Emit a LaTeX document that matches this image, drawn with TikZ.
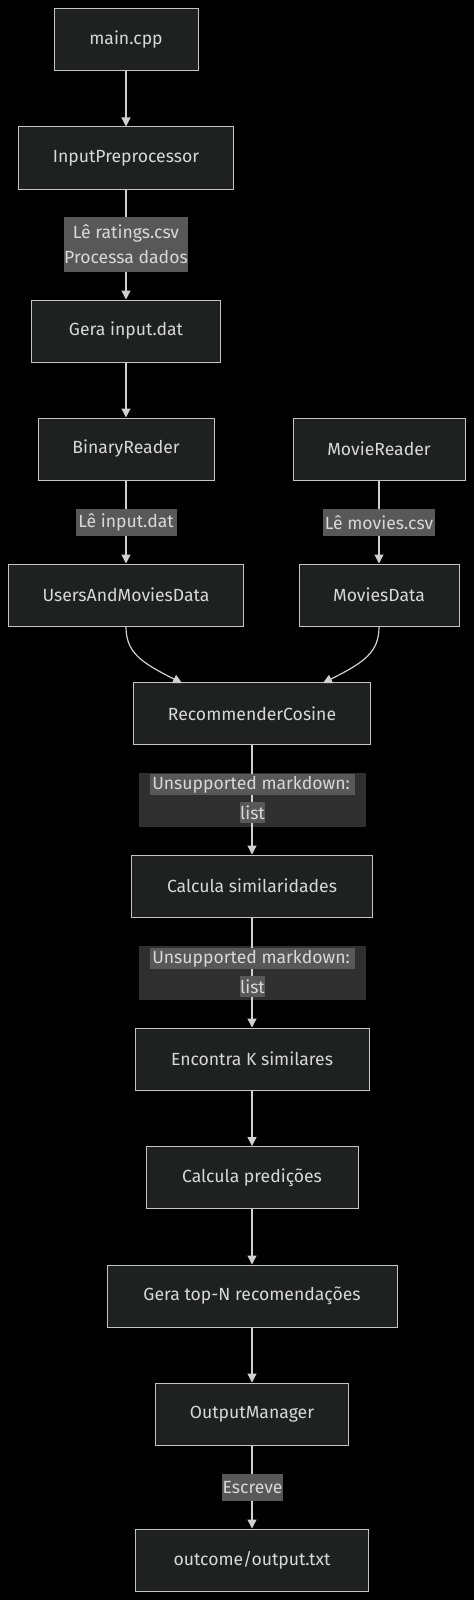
\documentclass[tikz,border=0pt]{standalone}
\usepackage{fontspec}
\setmainfont{Fira Sans}
\usetikzlibrary{arrows.meta}
\definecolor{bgc}{HTML}{000000}
\definecolor{boxfill}{HTML}{1F2020}
\definecolor{boxline}{HTML}{C4C4C4}
\definecolor{txt}{HTML}{D8D8D8}
\definecolor{lblbg}{HTML}{585858}
\definecolor{lblouter}{HTML}{2F2F2F}
\definecolor{edgec}{HTML}{D0D0D0}
\begin{document}
\begin{tikzpicture}[x=1pt,y=-1pt,
  every node/.style={font=\fontsize{17.6}{21}\selectfont, text=txt},
  procbox/.style={draw=boxline, line width=1pt, fill=boxfill, minimum height=62pt, inner sep=0pt},
  lbl/.style={fill=lblbg, inner sep=0pt, minimum height=27pt},
  outerlbl/.style={fill=lblouter, inner sep=0pt, minimum width=227pt, minimum height=54pt},
  edge/.style={draw=edgec, line width=1.2pt},
  arr/.style={edge, -{Triangle[width=9pt,length=9pt]}, shorten >=0pt}
]
\fill[bgc] (0,0) rectangle (474,1600);
\useasboundingbox (0,0) rectangle (474,1600);

% nodes
\node[procbox, minimum width=144pt] (main) at (126,40) {main.cpp};
\node[procbox, minimum width=215pt] (inpre) at (126,158) {InputPreprocessor};
\node[procbox, minimum width=189pt] (gera) at (126,331) {Gera input.dat};
\node[procbox, minimum width=176pt] (binr) at (126,449) {BinaryReader};
\node[procbox, minimum width=172pt] (movr) at (379,449) {MovieReader};
\node[procbox, minimum width=235pt] (uamd) at (126,595) {UsersAndMoviesData};
\node[procbox, minimum width=160pt] (movd) at (379,595) {MoviesData};
\node[procbox, minimum width=237pt] (rec) at (252,713.5) {RecommenderCosine};
\node[procbox, minimum width=241pt] (calc) at (252,886) {Calcula similaridades};
\node[procbox, minimum width=234pt] (enc) at (252,1059) {Encontra K similares};
\node[procbox, minimum width=212pt] (pred) at (252,1177.5) {Calcula predições};
\node[procbox, minimum width=290pt] (topn) at (252,1296) {Gera top-N recomendações};
\node[procbox, minimum width=193pt] (outm) at (252,1414) {OutputManager};
\node[procbox, minimum width=233pt] (outf) at (252,1560) {outcome/output.txt};

% edges
\draw[arr] (main) -- (inpre);
\draw[arr] (inpre) -- (gera);
\draw[arr] (gera) -- (binr);
\draw[arr] (binr) -- (uamd);
\draw[arr] (movr) -- (movd);
\coordinate (recl) at (182,683);
\coordinate (recr) at (323,683);
\draw[arr] (uamd.south) .. controls (126,652) and (140,662) .. (recl);
\draw[arr] (movd.south) .. controls (379,652) and (365,662) .. (recr);
\draw[arr] (rec) -- (calc);
\draw[arr] (calc) -- (enc);
\draw[arr] (enc) -- (pred);
\draw[arr] (pred) -- (topn);
\draw[arr] (topn) -- (outm);
\draw[arr] (outm) -- (outf);

% edge labels
\node[lbl, minimum width=121pt, minimum height=55pt, align=center] (l1) at (126,244.5) {Lê ratings.csv\\[4pt]Processa dados};
\node[lbl, minimum width=101pt] (l2) at (126,522.5) {Lê input.dat};
\node[lbl, minimum width=112pt] (l3) at (379,522.5) {Lê movies.csv};

\node[outerlbl] (l4) at (252,800) {};
\draw[edge] (l4.north) -- (l4.south);
\node[lbl, minimum width=205pt, minimum height=21pt] (l4a) at (252.5,784.5) {Unsupported markdown:\,};
\node[lbl, minimum width=25pt, minimum height=21pt] (l4b) at (252.5,812.5) {list};

\node[outerlbl] (l5) at (252,973) {};
\draw[edge] (l5.north) -- (l5.south);
\node[lbl, minimum width=205pt, minimum height=21pt] (l5a) at (252.5,958.5) {Unsupported markdown:\,};
\node[lbl, minimum width=25pt, minimum height=21pt] (l5b) at (252.5,986.5) {list};

\node[lbl, minimum width=61pt] (l6) at (252.5,1487.5) {Escreve};
\end{tikzpicture}
\end{document}
